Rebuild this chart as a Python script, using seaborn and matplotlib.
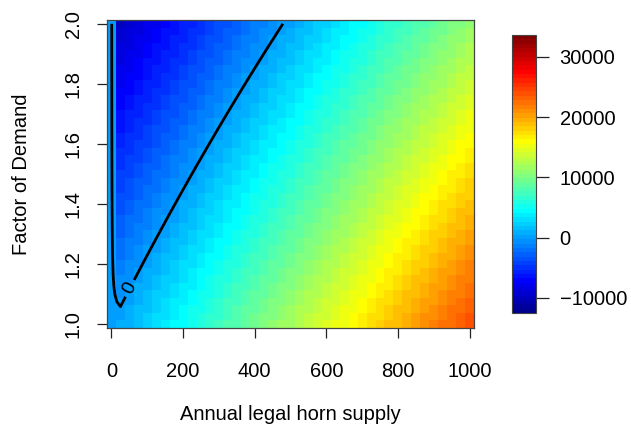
import numpy as np
import pandas as pd
import matplotlib
matplotlib.use("Agg")
import matplotlib.pyplot as plt
import seaborn as sns
from matplotlib.colors import LinearSegmentedColormap

# ---- data ----
supply = np.arange(0, 1001, 25)                       # grid columns (annual legal horn supply)
factor = np.round(np.arange(1.0, 2.0001, 0.025), 3)   # grid rows (factor of demand)
margin_factor_pts = [1.0, 2.0]
margin_per_unit = [24.0, 21.2]       # value per unit of supply at factor 1.0 / 2.0
fixed_loss = [0.0, 10150.0]          # loss at factor 1.0 / 2.0
value_at_zero_supply = 250.0
zlim = [-12500, 33650]

x_ticks = [0, 200, 400, 600, 800, 1000]
x_tick_labels = ["0", "200", "400", "600", "800", "1000"]
y_ticks = [1.0, 1.2, 1.4, 1.6, 1.8, 2.0]
y_tick_labels = ["1.0", "1.2", "1.4", "1.6", "1.8", "2.0"]
cbar_ticks = [-10000, 0, 10000, 20000, 30000]
cbar_tick_labels = ["\u221210000", "0", "10000", "20000", "30000"]
contour_level = [0]
contour_label_at = (50, 1.12)

# ---- build table ----
m = np.interp(factor, margin_factor_pts, margin_per_unit)
c = np.interp(factor, margin_factor_pts, fixed_loss)
Z = supply[None, :] * m[:, None] - c[:, None]
Z[:, 0] = value_at_zero_supply
df = pd.DataFrame(Z, index=factor, columns=supply)

plt.rcParams['font.family'] = ['Liberation Sans', 'DejaVu Sans']

tim = LinearSegmentedColormap.from_list(
    "tim", [(0, '#00008F'), (7/63, '#0000FF'), (23/63, '#00FFFF'),
            (39/63, '#FFFF00'), (55/63, '#FF0000'), (1, '#800000')], N=64)

fig = plt.figure(figsize=(6.31, 4.28), dpi=100)
ax = fig.add_axes([107/631, 100/428, 367/631, 308/428])
cax = fig.add_axes([512/631, 115/428, 24/631, 278/428])

sns.heatmap(df, ax=ax, cbar_ax=cax, cmap=tim, vmin=zlim[0], vmax=zlim[1],
            xticklabels=False, yticklabels=False)
ax.set_ylim(0, len(factor))

col_pos = np.arange(len(supply)) + 0.5
row_pos = np.arange(len(factor)) + 0.5
xp = np.interp(x_ticks, supply, col_pos)
yp = np.interp(y_ticks, factor, row_pos)

cs = ax.contour(col_pos, row_pos, Z, levels=contour_level, colors='black', linewidths=2)
lp = (np.interp(contour_label_at[0], supply, col_pos), np.interp(contour_label_at[1], factor, row_pos))
ax.clabel(cs, fmt='%d', manual=[lp], fontsize=14, inline=True, inline_spacing=4)

ax.set_xticks(xp)
ax.set_xticklabels(x_tick_labels, rotation=0)
ax.set_yticks(yp)
ax.set_yticklabels(y_tick_labels, rotation=90, va='center')
ax.tick_params(axis='both', length=7.5, width=0.9, direction='out', labelsize=14.5,
               color='#222222')
ax.tick_params(axis='x', pad=17)
ax.tick_params(axis='y', pad=10)
for s in ax.spines.values():
    s.set_visible(True)
    s.set_color('#444444')
    s.set_linewidth(0.9)

ax.set_xlabel("Annual legal horn supply", fontsize=14.5)
ax.xaxis.set_label_coords(0.5, -(414 - 328) / 308)
ax.xaxis.label.set_va('center')
ax.set_ylabel("Factor of Demand", fontsize=14.5)
ax.yaxis.set_label_coords(-(107 - 22) / 367, 0.5)
ax.yaxis.label.set_va('center')

cb = ax.collections[0].colorbar
cb.set_ticks(cbar_ticks)
cb.set_ticklabels(cbar_tick_labels)
cax.tick_params(length=9, width=0.9, labelsize=14.5, pad=8, color='#222222')
cb.outline.set_edgecolor('#444444')
cb.outline.set_linewidth(0.8)

fig.savefig("out.png", dpi=100)
